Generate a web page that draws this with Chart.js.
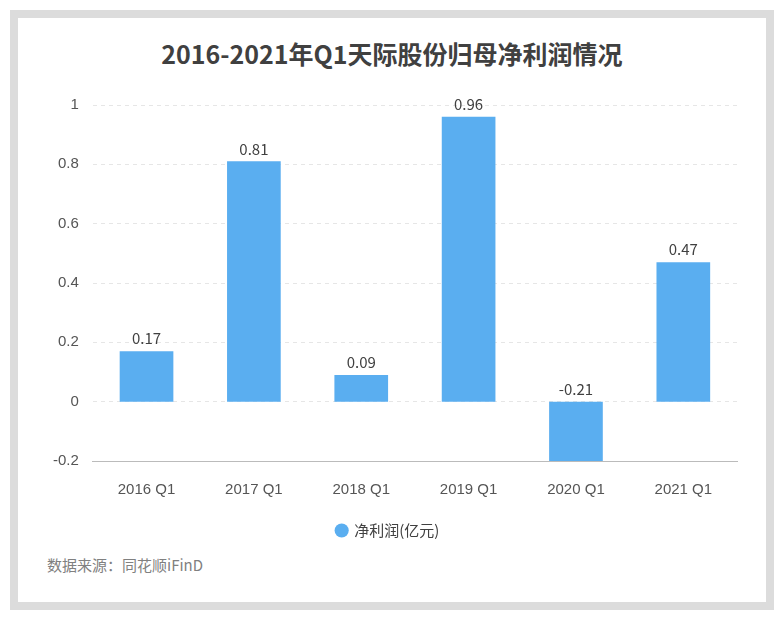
<!DOCTYPE html>
<html><head><meta charset="utf-8">
<script src="https://cdn.jsdelivr.net/npm/chart.js@4"></script>
<style>
body{margin:0;background:#fff;font-family:"Noto Sans CJK SC","Noto Sans",sans-serif;}
.outer{position:absolute;left:10px;top:10px;width:764px;height:600px;background:#dcdcdc;}
.card{position:absolute;left:8px;top:8px;width:748px;height:584px;background:#fff;}
h1{margin:0;position:absolute;top:17px;width:100%;text-align:center;font-size:25px;color:#404040;font-weight:bold;}
.src{position:absolute;left:29px;top:536px;font-size:15px;color:#808080;}
.wrap{position:absolute;left:0;top:63px;width:740px;height:467px;}
</style></head><body>
<div class="outer"><div class="card">
<h1>2016-2021年Q1天际股份归母净利润情况</h1>
<div class="wrap"><canvas id="c"></canvas></div>
<div class="src">数据来源：同花顺iFinD</div>
</div></div>
<script>
const categories = ['2016 Q1','2017 Q1','2018 Q1','2019 Q1','2020 Q1','2021 Q1'];
const profit = [0.17,0.81,0.09,0.96,-0.21,0.47];
const seriesName = '净利润(亿元)';

const labelPlugin = {
  id:'lbl',
  afterDatasetsDraw(chart){
    const ctx = chart.ctx, y = chart.scales.y;
    chart.getDatasetMeta(0).data.forEach((b,i)=>{
      const v = profit[i];
      const top = v>=0 ? b.y : y.getPixelForValue(0);
      ctx.save();
      ctx.fillStyle='#404040';ctx.font='15px "Noto Sans CJK SC","Noto Sans",sans-serif';
      ctx.textAlign='center';ctx.textBaseline='bottom';
      ctx.fillText(String(v), b.x, top-5);
      ctx.restore();
    });
  }
};

new Chart(document.getElementById('c'),{
  type:'bar',
  data:{labels:categories,datasets:[{label:seriesName,data:profit,backgroundColor:'#5aaef0',barPercentage:0.5,categoryPercentage:1}]},
  options:{
    responsive:true,maintainAspectRatio:false,animation:false,
    layout:{padding:{left:21,right:21,top:24}},
    plugins:{
      legend:{position:'bottom',labels:{usePointStyle:true,pointStyle:'circle',boxWidth:10,boxHeight:10,color:'#404040',font:{size:15,family:'"Noto Sans CJK SC","Noto Sans",sans-serif'},padding:12}},
      tooltip:{enabled:false}
    },
    scales:{
      x:{grid:{display:false},border:{color:'#bbb'},ticks:{color:'#555',font:{size:15},padding:12}},
      y:{min:-0.2,max:1,ticks:{stepSize:0.2,color:'#555',font:{size:15},padding:14,callback:v=>Math.round(v*10)/10},
         border:{display:false,dash:[4,4]},
         grid:{color:c=>c.tick.value===0?'#bbb':'#e6e6e6',lineWidth:1,drawTicks:false}}
    }
  },
  plugins:[labelPlugin]
});
</script></body></html>
